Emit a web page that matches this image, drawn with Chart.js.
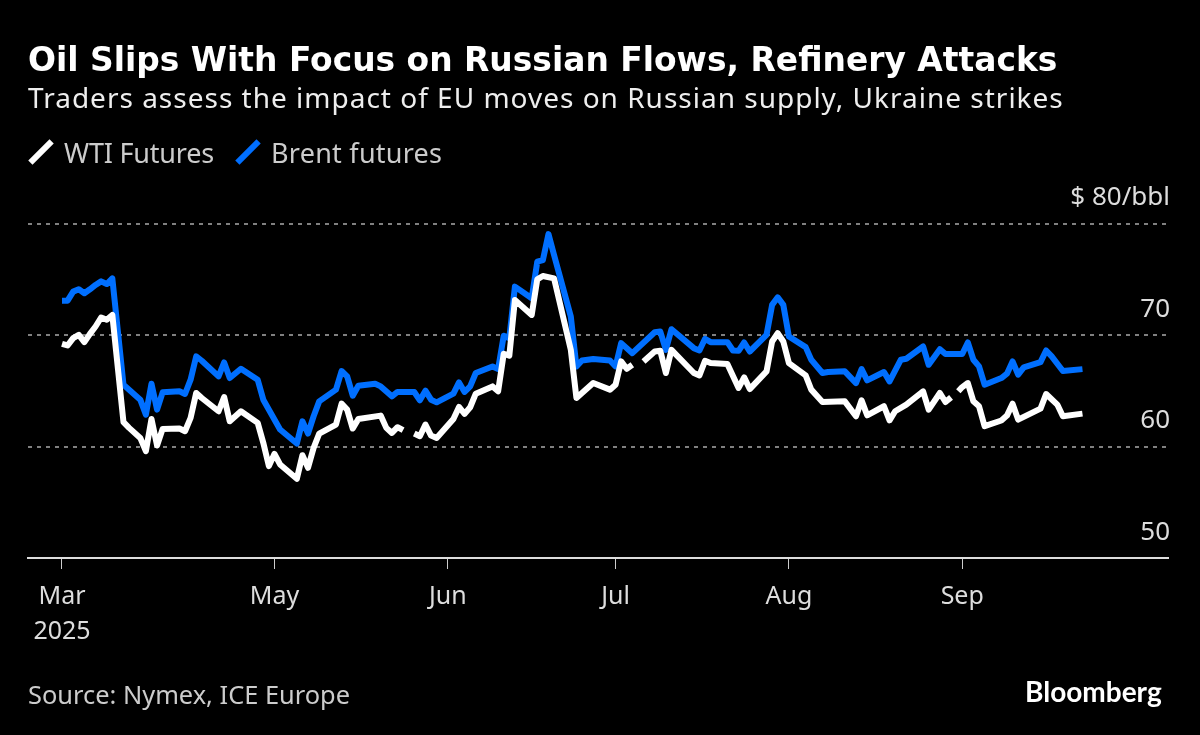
<!DOCTYPE html>
<html lang="en">
<head>
<meta charset="UTF-8">
<title>Oil Slips With Focus on Russian Flows, Refinery Attacks</title>
<script src="https://cdn.jsdelivr.net/npm/chart.js"></script>
<style>
  body { margin: 0; background: #000; width: 1200px; height: 735px; overflow: hidden; position: relative; font-family: "Noto Sans", sans-serif; }
  #chart { position: absolute; left: 0; top: 0; }
  .txt { position: absolute; white-space: nowrap; line-height: 1; }
  #title { left: 28px; top: 44px; font-family: "DejaVu Sans", sans-serif; font-size: 32.9px; font-weight: 700; color: #fff; }
  #subtitle { left: 28px; top: 82.5px; font-size: 28px; letter-spacing: 1px; color: #eee; }
  #source { left: 28px; top: 682px; font-size: 25.4px; color: #ccc; }
  #brand { left: 1025px; top: 677px; font-family: Lato, sans-serif; font-size: 28px; font-weight: 700; color: #fff; }
  .swatch { position: absolute; width: 30px; height: 6px; transform: rotate(-45deg); }
  .legendText { top: 139px; font-size: 27px; color: #ccc; }
</style>
</head>
<body>
<canvas id="chart" width="1200" height="735"></canvas>
<div class="txt" id="title">Oil Slips With Focus on Russian Flows, Refinery Attacks</div>
<div class="txt" id="subtitle">Traders assess the impact of EU moves on Russian supply, Ukraine strikes</div>
<div class="swatch" style="left:26px;top:149px;background:#fff"></div>
<div class="txt legendText" style="left:64px;letter-spacing:-0.2px">WTI Futures</div>
<div class="swatch" style="left:233px;top:149px;background:#006fff"></div>
<div class="txt legendText" style="left:271px;letter-spacing:0.25px">Brent futures</div>
<div class="txt" id="source">Source: Nymex, ICE Europe</div>
<div class="txt" id="brand">Bloomberg</div>

<script>
  // x values are steps along the axis; the axis skips most of April, as the original does
  const monthTicks = [0, 38, 69, 99, 130, 161];
  const monthLabels = [['Mar', '2025'], 'May', 'Jun', 'Jul', 'Aug', 'Sep'];
  const priceTicks = [50, 60, 70, 80];

  const wtiSteps = [0, 1, 2, 3, 4, 5, 6, 7, 8, 9, 11, 12, 14, 15, 16, 17, 18, 21, 22, 23, 24, 25, 28, 29, 30, 32, 35, 36, 37, 38, 39, 42, 43, 44, 45, 46, 49, 50, 51, 52, 53, 57, 58, 59, 60, 61, 62, 63, 64, 65, 66, 67, 70, 71, 72, 73, 74, 77, 78, 79, 80, 81, 84, 85, 86, 88, 91, 92, 95, 98, 99, 100, 101, 102, 103, 104, 106, 107, 108, 109, 113, 114, 115, 116, 119, 121, 122, 123, 126, 127, 128, 129, 130, 133, 134, 136, 140, 142, 143, 144, 147, 148, 149, 151, 154, 155, 157, 158, 159, 159.7, 160.3, 161, 162, 163, 164, 165, 168, 169, 170, 171, 175, 176, 178, 179, 182.5];
  const wtiPrices = [69.21, 69.06, 69.72, 70.01, 69.36, 70.10, 70.76, 71.57, 71.36, 71.80, 62.18, 61.67, 60.77, 59.58, 62.47, 60.09, 61.58, 61.61, 61.37, 62.56, 64.80, 64.35, 63.16, 64.44, 62.26, 63.16, 62.12, 60.33, 58.24, 59.34, 58.39, 57.11, 59.22, 58.09, 59.88, 61.16, 61.97, 63.84, 63.31, 61.61, 62.47, 62.77, 61.67, 61.22, 61.73, 61.46, null, 61.16, 60.92, 61.97, 60.98, 60.77, 62.47, 63.55, 62.92, 63.52, 64.74, 65.39, 64.95, 68.32, 68.14, 73.14, 71.80, 74.99, 75.29, 75.08, 68.67, 64.35, 65.69, 65.10, 65.54, 67.63, 66.97, 67.33, null, 67.63, 68.52, 68.58, 66.59, 68.67, 66.59, 66.38, 67.69, 67.48, 67.39, 65.25, 66.20, 65.15, 66.74, 69.42, 70.16, 69.42, 67.48, 66.38, 65.10, 63.99, 64.05, 62.71, 64.14, 62.80, 63.61, 62.35, 63.16, 63.76, 64.95, 63.31, 64.80, 63.99, 64.41, null, 64.95, 65.33, 65.69, 64.05, 63.61, 61.82, 62.33, 62.77, 63.84, 62.41, 63.40, 64.71, 63.76, 62.71, 62.95];

  const brentSteps = [0, 1, 2, 3, 4, 5, 6, 7, 8, 9, 11, 12, 13, 14, 15, 16, 17, 18, 21, 22, 23, 24, 25, 28, 29, 30, 32, 35, 36, 39, 42, 43, 44, 45, 46, 49, 50, 51, 52, 53, 56, 57, 59, 60, 63, 64, 65, 66, 67, 70, 71, 72, 73, 74, 77, 78, 79, 80, 81, 84, 85, 86, 87, 88, 91, 92, 93, 95, 98, 99, 100, 102, 106, 107, 108, 109, 113, 114, 115, 116, 119, 120, 121, 122, 123, 126, 127, 128, 129, 130, 133, 134, 136, 137, 140, 142, 143, 144, 147, 148, 150, 151, 154, 155, 157, 158, 161, 162, 163, 164, 165, 168, 169, 170, 171, 172, 175, 176, 177, 179, 182.5];
  const brentPrices = [73.08, 73.08, 73.89, 74.10, 73.74, 74.10, 74.49, 74.81, 74.57, 75.08, 65.54, 65.10, 64.65, 64.20, 62.86, 65.63, 63.31, 64.86, 64.95, 64.71, 65.99, 68.08, 67.69, 66.29, 67.54, 66.14, 66.97, 65.99, 64.20, 61.52, 60.27, 62.26, 61.16, 62.71, 64.05, 65.10, 66.77, 66.29, 64.56, 65.45, 65.63, 65.39, 64.50, 64.89, 64.89, 64.14, 65.01, 64.20, 63.96, 64.74, 65.75, 64.89, 65.39, 66.59, 67.18, 66.94, 69.93, 69.72, 74.34, 73.29, 76.57, 76.72, 79.05, 77.17, 71.65, 67.18, 67.72, 67.84, 67.72, 67.18, 69.27, 68.37, 70.25, 70.31, 68.67, 70.52, 68.82, 68.61, 69.66, 69.36, 69.36, 68.61, 68.58, 69.33, 68.52, 70.01, 72.70, 73.38, 72.70, 69.87, 68.91, 67.78, 66.59, 66.68, 66.74, 65.69, 66.94, 65.93, 66.68, 65.84, 67.78, 67.87, 68.97, 67.33, 68.73, 68.29, 68.29, 69.33, 67.78, 67.18, 65.54, 66.14, 66.53, 67.63, 66.44, 67.09, 67.57, 68.61, 68.08, 66.77, 66.94];

  function toPoints(steps, prices) {
    return steps.map((step, i) => ({ x: step, y: prices[i] }));
  }

  new Chart(document.getElementById('chart'), {
    type: 'line',
    data: {
      datasets: [
        { label: 'WTI Futures', data: toPoints(wtiSteps, wtiPrices), borderColor: '#fff', borderWidth: 6, pointRadius: 0, tension: 0, spanGaps: false, borderJoinStyle: 'round' },
        { label: 'Brent futures', data: toPoints(brentSteps, brentPrices), borderColor: '#006fff', borderWidth: 6, pointRadius: 0, tension: 0, borderJoinStyle: 'round' }
      ]
    },
    options: {
      responsive: false,
      animation: false,
      layout: { padding: { top: 223.5, left: 28, right: 28, bottom: 0 } },
      plugins: { legend: { display: false }, tooltip: { enabled: false } },
      scales: {
        x: {
          type: 'linear',
          min: -6.08,
          max: 197.8,
          afterBuildTicks: axis => { axis.ticks = monthTicks.map(value => ({ value })); },
          afterFit: axis => { axis.height = 177; },
          border: { color: '#ddd', width: 2 },
          grid: { drawOnChartArea: false, color: '#ccc', tickLength: 11, lineWidth: 1 },
          ticks: {
            autoSkip: false,
            maxRotation: 0,
            padding: 10,
            color: '#ddd',
            font: { family: '"Noto Sans"', size: 25, lineHeight: 1.4 },
            callback: value => monthLabels[monthTicks.indexOf(value)]
          }
        },
        y: {
          position: 'right',
          min: 50,
          max: 80,
          afterBuildTicks: axis => { axis.ticks = priceTicks.map(value => ({ value })); },
          border: { display: false, dash: [4, 5] },
          grid: { drawTicks: false, lineWidth: 2, color: ctx => ctx.tick.value === 50 ? 'transparent' : '#808080' },
          ticks: {
            mirror: true,
            padding: 2,
            labelOffset: -25.5,
            color: '#ddd',
            font: { family: '"Noto Sans"', size: 26 },
            callback: value => value === 80 ? '$ 80/bbl' : String(value)
          }
        }
      }
    }
  });
</script>
</body>
</html>
